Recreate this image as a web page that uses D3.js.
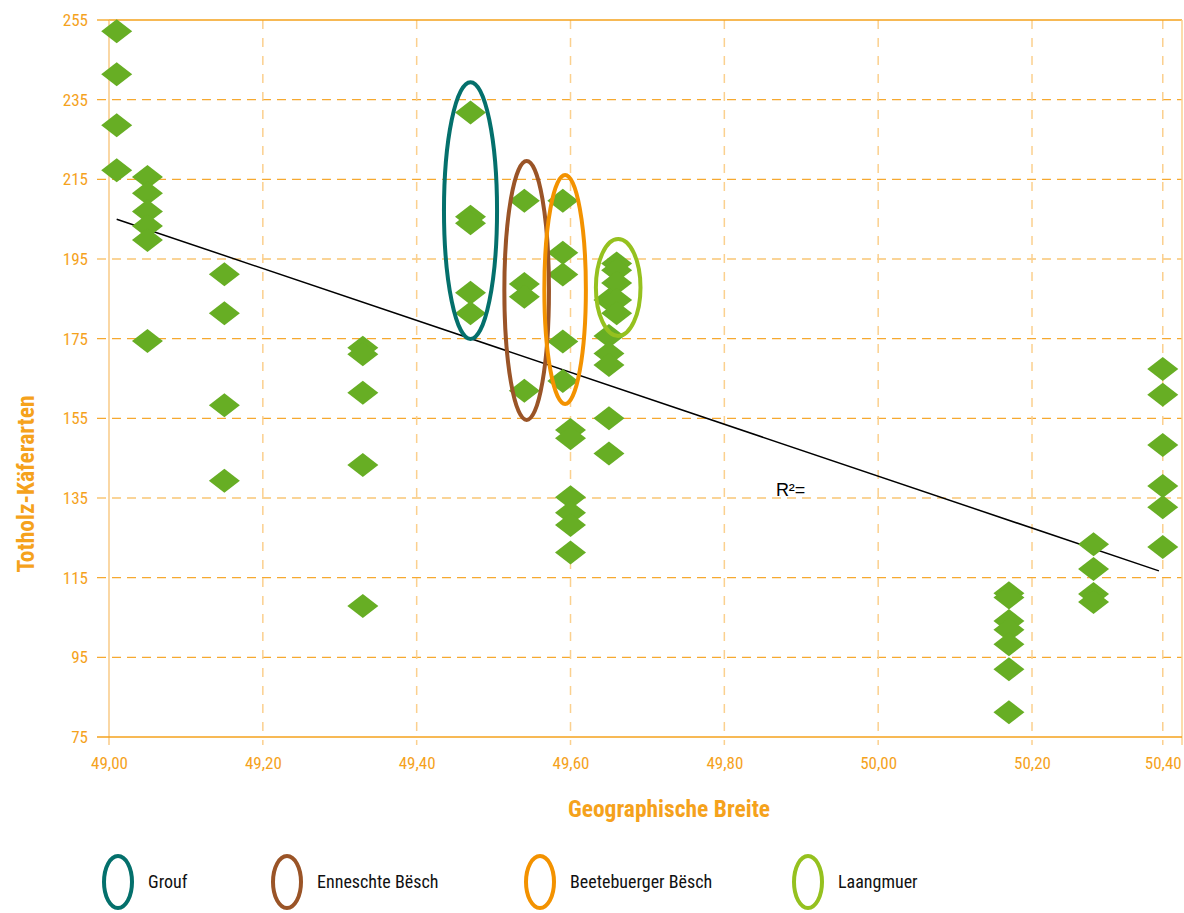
<!DOCTYPE html>
<html><head><meta charset="utf-8">
<script src="https://cdn.jsdelivr.net/npm/d3@7"></script>
<style>
body{margin:0;background:#fff;}
svg text{font-family:"Liberation Sans Narrow","Roboto Condensed","Arial Narrow",sans-serif;}
</style></head><body>
<svg id="c" width="1184" height="913"></svg>
<script>
// ---- data ----
const lat = [
 49.01,49.01,49.01,49.01,
 49.05,49.05,49.05,49.05,49.05,49.05,
 49.15,49.15,49.15,49.15,
 49.33,49.33,49.33,49.33,49.33,
 49.47,49.47,49.47,49.47,49.47,
 49.54,49.54,49.54,49.54,
 49.59,49.59,49.59,49.59,49.59,
 49.60,49.60,49.60,49.60,49.60,49.60,
 49.65,49.65,49.65,49.65,49.65,
 49.66,49.66,49.66,49.65,49.66,49.66,
 50.17,50.17,50.17,50.17,50.17,50.17,50.17,
 50.28,50.28,50.28,50.28,
 50.37,50.37,50.37,50.37,50.37,50.37
];
const species = [
 252.2,241.4,228.6,217.3,
 215.6,211.5,206.9,203.3,199.8,174.4,
 191.2,181.4,158.3,139.3,
 172.7,171.1,161.4,143.3,107.9,
 231.8,205.6,204.0,186.5,181.4,
 209.6,188.7,185.5,161.9,
 209.6,196.6,191.1,174.3,164.4,
 152.1,150.0,135.2,131.3,128.2,121.3,
 175.7,171.3,168.4,155.0,146.2,
 193.9,192.2,189.0,184.7,184.7,181.4,
 111.1,110.0,104.1,101.9,98.3,92.0,81.2,
 123.4,117.2,110.9,108.9,
 167.4,160.9,148.3,138.0,132.7,122.7
];
const xTickValues = [49.0,49.2,49.4,49.6,49.8,50.0,50.2,50.37];
const xTickLabels = ["49,00","49,20","49,40","49,60","49,80","50,00","50,20","50,40"];
const yTickValues = [75,95,115,135,155,175,195,215,235,255];
const trendLat = [49.01, 50.365];
const trendSpecies = [205.0, 116.7];
const groupNames = ["Grouf","Enneschte Bësch","Beetebuerger Bësch","Laangmuer"];
const groupColors = ["#04706c","#9a5427","#f39200","#95c11f"];
const groupLat = [49.470, 49.543, 49.593, 49.662];
const groupHalfWidth = [0.0345, 0.029, 0.027, 0.029];
const groupMin = [174.9, 154.6, 158.6, 175.7];
const groupMax = [239.4, 219.6, 216.1, 200.0];

// ---- chart ----
const svg = d3.select("#c");
const x = d3.scaleLinear().domain([49.0, 50.395]).range([109, 1182]);
const y = d3.scaleLinear().domain([75, 255]).range([737, 20]);
const orange = "#f5a21c";

// horizontal gridlines
svg.append("g").selectAll("line").data(yTickValues.filter(v=>v>75 && v<255)).join("line")
  .attr("x1",97).attr("x2",1182).attr("y1",d=>y(d)).attr("y2",d=>y(d))
  .attr("stroke","#f6a930").attr("stroke-width",1.2).attr("stroke-dasharray","9,6");
// vertical gridlines
svg.append("g").selectAll("line").data(xTickValues.slice(1)).join("line")
  .attr("x1",d=>x(d)).attr("x2",d=>x(d)).attr("y1",20).attr("y2",745)
  .attr("stroke","#fbd08e").attr("stroke-width",1.5).attr("stroke-dasharray","9,9");
// frame
svg.append("line").attr("x1",109).attr("x2",1182).attr("y1",20).attr("y2",20).attr("stroke",orange).attr("stroke-width",1.3);
svg.append("line").attr("x1",1182).attr("x2",1182).attr("y1",20).attr("y2",745).attr("stroke","#fbd08e").attr("stroke-width",1.5);
svg.append("line").attr("x1",109).attr("x2",109).attr("y1",20).attr("y2",745).attr("stroke","#f8c273").attr("stroke-width",1.3);
svg.append("line").attr("x1",97).attr("x2",1182).attr("y1",737).attr("y2",737).attr("stroke",orange).attr("stroke-width",1.3);
svg.append("line").attr("x1",97).attr("x2",109).attr("y1",20).attr("y2",20).attr("stroke",orange).attr("stroke-width",1.3);

// axis tick labels via d3 axes (no domain/ticks)
const xAxis = d3.axisBottom(x).tickValues(xTickValues).tickFormat((d,i)=>xTickLabels[i]).tickSize(0).tickPadding(20);
const gx = svg.append("g").attr("transform","translate(0,737)").call(xAxis);
gx.select(".domain").remove();
gx.selectAll("text").attr("fill",orange).attr("font-size",17).style("font-family","'Liberation Sans Narrow','Roboto Condensed',sans-serif");
const yAxis = d3.axisLeft(y).tickValues(yTickValues).tickFormat(d3.format("d")).tickSize(0).tickPadding(21);
const gy = svg.append("g").attr("transform","translate(109,0)").call(yAxis);
gy.select(".domain").remove();
gy.selectAll("text").attr("fill",orange).attr("font-size",17).style("font-family","'Liberation Sans Narrow','Roboto Condensed',sans-serif");

// trend line
svg.append("line").attr("x1",x(trendLat[0])).attr("y1",y(trendSpecies[0]))
  .attr("x2",x(trendLat[1])).attr("y2",y(trendSpecies[1])).attr("stroke","#000").attr("stroke-width",1.5);

// diamonds
const diamond = "M0,-12L15.5,0L0,12L-15.5,0Z";
svg.append("g").selectAll("path").data(lat.map((d,i)=>[d,species[i]])).join("path")
  .attr("d",diamond).attr("transform",d=>`translate(${x(d[0])},${y(d[1])})`).attr("fill","#67ae24");

// group ellipses
svg.append("g").selectAll("ellipse").data(groupNames).join("ellipse")
  .attr("cx",(d,i)=>x(groupLat[i]))
  .attr("cy",(d,i)=>(y(groupMin[i])+y(groupMax[i]))/2)
  .attr("rx",(d,i)=>x(groupLat[i]+groupHalfWidth[i])-x(groupLat[i]))
  .attr("ry",(d,i)=>(y(groupMin[i])-y(groupMax[i]))/2)
  .attr("fill","none").attr("stroke",(d,i)=>groupColors[i]).attr("stroke-width",4);

// R² label
svg.append("text").attr("x",x(49.867)).attr("y",y(135.6)).text("R²=")
  .attr("font-size",18).attr("fill","#000").style("font-family","'Liberation Sans',Arial,sans-serif");

// axis titles
svg.append("text").attr("x",669).attr("y",817).attr("text-anchor","middle")
  .attr("font-size",23.5).attr("font-weight","bold").attr("fill",orange).text("Geographische Breite");
svg.append("text").attr("transform","translate(34,484) rotate(-90)").attr("text-anchor","middle")
  .attr("font-size",23.5).attr("font-weight","bold").attr("fill",orange).text("Totholz-Käferarten");

// legend
const legX = [118, 287, 540, 808];
const lg = svg.append("g").selectAll("g").data(groupNames).join("g")
  .attr("transform",(d,i)=>`translate(${legX[i]},882)`);
lg.append("ellipse").attr("rx",14).attr("ry",26).attr("fill","none")
  .attr("stroke",(d,i)=>groupColors[i]).attr("stroke-width",4);
lg.append("text").attr("x",30).attr("y",6).attr("font-size",18).attr("fill","#111").text(d=>d);
</script>
</body></html>
